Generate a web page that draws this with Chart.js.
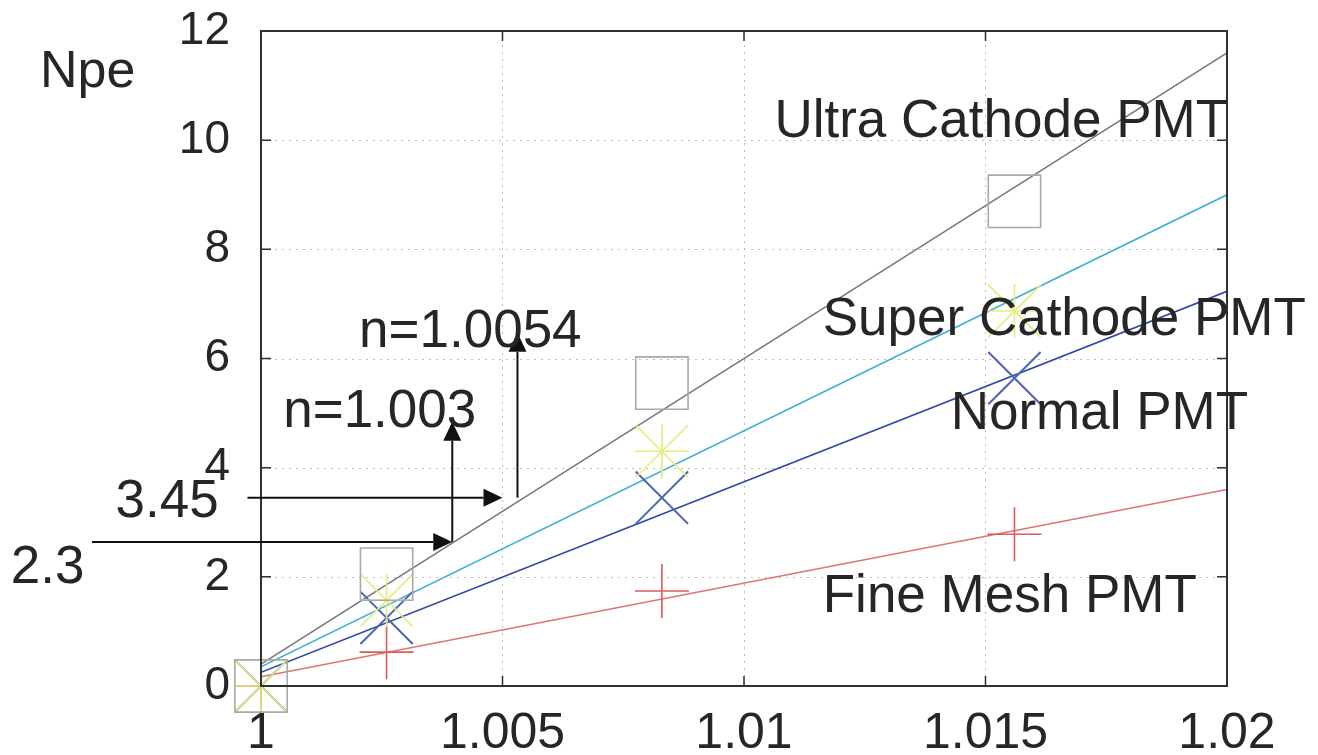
<!DOCTYPE html>
<html>
<head>
<meta charset="utf-8">
<script src="https://cdn.jsdelivr.net/npm/chart.js@4.4.1/dist/chart.umd.min.js"></script>
<style>
  html, body { margin: 0; padding: 0; background: #ffffff; }
  #wrap { width: 1318px; height: 755px; }
</style>
</head>
<body>
<div id="wrap"><canvas id="c" width="1318" height="755"></canvas></div>
<script>
// Axis ticks
const xTickValues = [1, 1.005, 1.01, 1.015, 1.02];
const xTickLabels = ['1', '1.005', '1.01', '1.015', '1.02'];
const yTickValues = [0, 2, 4, 6, 8, 10, 12];
const yTickLabels = ['0', '2', '4', '6', '8', '10', '12'];

// Refractive index of each aerogel sample
const indexValues = [1.0, 1.0026, 1.0083, 1.0156];

// Measured photoelectron yield per PMT type
const ultraNpe = [0, 2.05, 5.55, 8.88];
const superNpe = [0, 1.57, 4.3, 6.87];
const normalNpe = [0, 1.25, 3.45, 5.64];
const fineMeshNpe = [0, 0.62, 1.74, 2.78];

// Linear fits, evaluated at both ends of the index range
const fitIndex = [1.0, 1.02];
const ultraFit = [0.4, 11.6];
const superFit = [0.35, 9.0];
const normalFit = [0.25, 7.23];
const fineMeshFit = [0.17, 3.6];

// Threshold read-off: Npe level -> index where the Ultra fit crosses it
const thresholdNpe = [3.45, 2.64];
const thresholdIndex = [1.00531, 1.00396];
const thresholdText = ['3.45', '2.3'];
const thresholdIndexText = ['n=1.0054', 'n=1.003'];

const toPoints = (xs, ys) => xs.map((x, i) => ({ x: x, y: ys[i] }));

const FONT = '"Liberation Sans", Arial, sans-serif';
const INK = '#262626';

function fitLine(ys, color, order) {
  return {
    data: toPoints(fitIndex, ys),
    showLine: true,
    borderColor: color,
    borderWidth: 1.6,
    pointRadius: 0,
    order: order
  };
}

function markers(ys, style, radius, color, width, order) {
  return {
    data: toPoints(indexValues, ys),
    showLine: false,
    pointStyle: style,
    pointRadius: radius,
    borderColor: color,
    backgroundColor: 'rgba(0,0,0,0)',
    pointBorderWidth: width,
    clip: false,
    order: order
  };
}

// Dotted grid, inward ticks, frame and the text / arrow annotations
const decorations = {
  id: 'decorations',
  beforeDatasetsDraw(chart) {
    const { ctx, chartArea: a, scales: { x, y } } = chart;
    ctx.save();
    ctx.strokeStyle = '#bdbdbd';
    ctx.lineWidth = 1;
    ctx.setLineDash([2, 5]);
    ctx.beginPath();
    xTickValues.slice(1, -1).forEach(v => {
      const px = Math.round(x.getPixelForValue(v)) + 0.5;
      ctx.moveTo(px, a.top); ctx.lineTo(px, a.bottom);
    });
    yTickValues.slice(1, -1).forEach(v => {
      const py = Math.round(y.getPixelForValue(v)) + 0.5;
      ctx.moveTo(a.left, py); ctx.lineTo(a.right, py);
    });
    ctx.stroke();
    ctx.restore();
  },
  afterDatasetsDraw(chart) {
    const { ctx, chartArea: a, scales: { x, y } } = chart;
    ctx.save();
    // frame
    ctx.strokeStyle = '#303030';
    ctx.lineWidth = 2;
    ctx.strokeRect(a.left, a.top, a.right - a.left, a.bottom - a.top);
    // inward tick marks on all four sides
    const tl = 10;
    ctx.lineWidth = 1.5;
    ctx.beginPath();
    xTickValues.forEach(v => {
      const px = x.getPixelForValue(v);
      ctx.moveTo(px, a.bottom); ctx.lineTo(px, a.bottom - tl);
      ctx.moveTo(px, a.top); ctx.lineTo(px, a.top + tl);
    });
    yTickValues.forEach(v => {
      const py = y.getPixelForValue(v);
      ctx.moveTo(a.left, py); ctx.lineTo(a.left + tl, py);
      ctx.moveTo(a.right, py); ctx.lineTo(a.right - tl, py);
    });
    ctx.stroke();

    // axis title
    ctx.fillStyle = INK;
    ctx.textBaseline = 'alphabetic';
    ctx.textAlign = 'left';
    ctx.font = '52px ' + FONT;
    ctx.fillText('Npe', 40, 87);

    // curve names
    const names = [
      ['Ultra Cathode PMT', 1.01063, 10.06],
      ['Super Cathode PMT', 1.01163, 6.43],
      ['Normal PMT', 1.01428, 4.71],
      ['Fine Mesh PMT', 1.01163, 1.36]
    ];
    ctx.font = '53px ' + FONT;
    names.forEach(([t, vx, vy]) => ctx.fillText(t, x.getPixelForValue(vx), y.getPixelForValue(vy)));

    // threshold arrows: horizontal to the Ultra fit, then up to the index label
    const arrowStart = [0.99972, 0.99650];
    const arrowTop = [6.47, 4.84];
    const textPos = [[0.99699, 3.10, 1.00203, 6.21], [0.99482, 1.89, 1.00046, 4.75]];
    ctx.strokeStyle = '#111111';
    ctx.fillStyle = '#111111';
    ctx.lineWidth = 2;
    thresholdNpe.forEach((lvl, i) => {
      const py = y.getPixelForValue(lvl);
      const px = x.getPixelForValue(thresholdIndex[i]);
      const x0 = x.getPixelForValue(arrowStart[i]);
      const tipX = i === 0 ? px - 15 : px;
      arrow(ctx, x0, py, tipX, py);
      arrow(ctx, px, py, px, y.getPixelForValue(arrowTop[i]));
    });
    ctx.fillStyle = INK;
    ctx.font = '53px ' + FONT;
    thresholdNpe.forEach((lvl, i) => {
      const p = textPos[i];
      ctx.fillText(thresholdText[i], x.getPixelForValue(p[0]), y.getPixelForValue(p[1]));
      ctx.fillText(thresholdIndexText[i], x.getPixelForValue(p[2]), y.getPixelForValue(p[3]));
    });
    ctx.restore();
  }
};

function arrow(ctx, x0, y0, x1, y1) {
  const ang = Math.atan2(y1 - y0, x1 - x0);
  const len = 19, half = 9;
  const bx = x1 - Math.cos(ang) * len, by = y1 - Math.sin(ang) * len;
  ctx.beginPath();
  ctx.moveTo(x0, y0);
  ctx.lineTo(bx, by);
  ctx.stroke();
  ctx.beginPath();
  ctx.moveTo(x1, y1);
  ctx.lineTo(bx - Math.sin(ang) * half, by + Math.cos(ang) * half);
  ctx.lineTo(bx + Math.sin(ang) * half, by - Math.cos(ang) * half);
  ctx.closePath();
  ctx.fill();
}

new Chart(document.getElementById('c'), {
  type: 'scatter',
  data: {
    datasets: [
      fitLine(ultraFit, '#76767c', 9),
      fitLine(superFit, '#3fb0d2', 8),
      fitLine(normalFit, '#2f47a6', 7),
      fitLine(fineMeshFit, '#e07474', 6),
      markers(fineMeshNpe, 'cross', 27, '#e05858', 1.6, 5),
      markers(normalNpe, 'crossRot', 37, '#4c64b6', 2, 4),
      markers(superNpe, 'cross', 27, '#e4ec7c', 1.6, 3),
      markers(superNpe, 'crossRot', 37, '#e4ec7c', 1.6, 2),
      markers(ultraNpe, 'rect', 37, '#a9a9a9', 1.6, 1)
    ]
  },
  options: {
    responsive: false,
    devicePixelRatio: 1,
    animation: false,
    events: [],
    layout: { autoPadding: false, padding: { left: 0, top: 31, right: 91, bottom: 0 } },
    plugins: { legend: { display: false }, tooltip: { enabled: false } },
    scales: {
      x: {
        type: 'linear',
        min: 1,
        max: 1.02,
        afterBuildTicks: s => { s.ticks = xTickValues.map(v => ({ value: v })); },
        afterFit: s => { s.height = 69; s.paddingLeft = 0; s.paddingRight = 0; },
        grid: { display: false, drawTicks: false },
        border: { display: false },
        ticks: {
          callback: (v, i) => xTickLabels[i],
          autoSkip: false,
          maxRotation: 0,
          padding: 18,
          color: INK,
          font: { family: FONT, size: 50 }
        }
      },
      y: {
        type: 'linear',
        min: 0,
        max: 12,
        afterBuildTicks: s => { s.ticks = yTickValues.map(v => ({ value: v })); },
        afterFit: s => { s.width = 261; s.paddingTop = 0; s.paddingBottom = 0; },
        grid: { display: false, drawTicks: false },
        border: { display: false },
        ticks: {
          callback: (v, i) => yTickLabels[i],
          padding: 31,
          color: INK,
          font: { family: FONT, size: 46 }
        }
      }
    }
  },
  plugins: [decorations]
});
</script>
</body>
</html>
